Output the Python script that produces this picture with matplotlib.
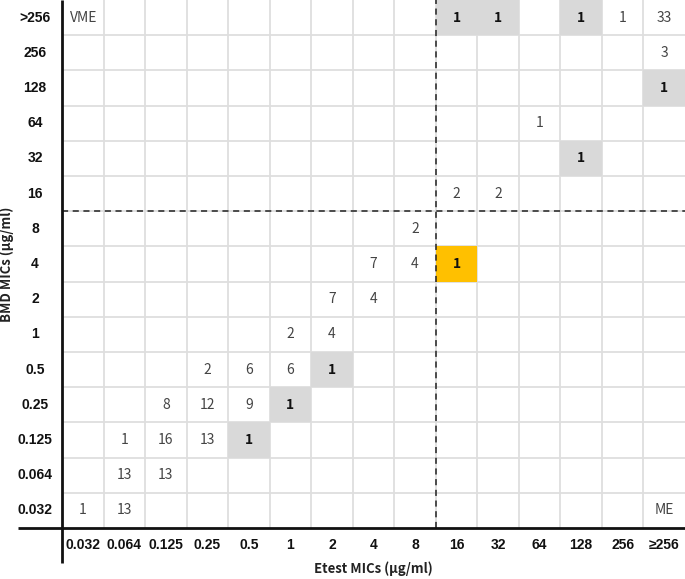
import matplotlib
matplotlib.use("Agg")
import matplotlib.pyplot as plt
from matplotlib.patches import Rectangle
import numpy as np

etest_labels = ["0.032", "0.064", "0.125", "0.25", "0.5", "1", "2", "4", "8",
                "16", "32", "64", "128", "256", "≥256"]
bmd_labels = [">256", "256", "128", "64", "32", "16", "8", "4", "2", "1",
              "0.5", "0.25", "0.125", "0.064", "0.032"]  # top to bottom

# counts: (bmd label, etest label, count)
counts = [
    (">256", "16", 1), (">256", "32", 1), (">256", "128", 1), (">256", "256", 1), (">256", "≥256", 33),
    ("256", "≥256", 3),
    ("128", "≥256", 1),
    ("64", "64", 1),
    ("32", "128", 1),
    ("16", "16", 2), ("16", "32", 2),
    ("8", "8", 2),
    ("4", "4", 7), ("4", "8", 4), ("4", "16", 1),
    ("2", "2", 7), ("2", "4", 4),
    ("1", "1", 2), ("1", "2", 4),
    ("0.5", "0.25", 2), ("0.5", "0.5", 6), ("0.5", "1", 6), ("0.5", "2", 1),
    ("0.25", "0.125", 8), ("0.25", "0.25", 12), ("0.25", "0.5", 9), ("0.25", "1", 1),
    ("0.125", "0.064", 1), ("0.125", "0.125", 16), ("0.125", "0.25", 13), ("0.125", "0.5", 1),
    ("0.064", "0.064", 13), ("0.064", "0.125", 13),
    ("0.032", "0.032", 1), ("0.032", "0.064", 13),
]

# highlighted cells: (bmd, etest start, etest end)
grey_cells = [(">256", "16", "32"), (">256", "128", "128"), ("128", "≥256", "≥256"),
              ("32", "128", "128"), ("0.5", "2", "2"), ("0.25", "1", "1"), ("0.125", "0.5", "0.5")]
orange_cells = [("4", "16", "16")]

W, H = 685, 579
fig = plt.figure(figsize=(W / 100, H / 100), dpi=100)
left_px, bottom_px = 62, 528
ax = fig.add_axes([left_px / W, (H - bottom_px) / H, 1 - left_px / W, bottom_px / H])
nx, ny = len(etest_labels), len(bmd_labels)
ax.set_xlim(0, nx)
ax.set_ylim(0, ny)
for s in ax.spines.values():
    s.set_visible(False)
ax.set_xticks([])
ax.set_yticks([])

def row_y(lbl):
    return ny - 1 - bmd_labels.index(lbl)

def col_x(lbl):
    return etest_labels.index(lbl)

gridc = "#dedede"
for i in range(1, nx):
    ax.plot([i, i], [0, ny], color=gridc, lw=1.3, zorder=1, solid_capstyle="butt")
for j in range(1, ny):
    ax.plot([0, nx], [j, j], color=gridc, lw=1.3, zorder=1, solid_capstyle="butt")

bold_cells = set()
for cells, colr in ((grey_cells, "#d9d9d9"), (orange_cells, "#ffc000")):
    for r, c0, c1 in cells:
        x0 = col_x(c0)
        x1 = col_x(c1) + 1
        y0 = row_y(r)
        ax.add_patch(Rectangle((x0, y0), x1 - x0, 1, facecolor=colr, edgecolor="none", zorder=2))
        for c in range(col_x(c0), col_x(c1) + 1):
            bold_cells.add((r, c))

num_font = ["Noto Sans CJK SC", "DejaVu Sans"]
for r, c, v in counts:
    xi = col_x(c)
    yi = row_y(r)
    if (r, xi) in bold_cells:
        ax.text(xi + 0.5, yi + 0.5, str(v), ha="center", va="center", fontsize=10,
                fontweight="bold", color="#111111", family=num_font, zorder=4)
    else:
        ax.text(xi + 0.5, yi + 0.5, str(v), ha="center", va="center", fontsize=10,
                color="#444444", family=num_font, zorder=4)

ax.text(0.2, ny - 0.5, "VME", ha="left", va="center", fontsize=10, color="#444444",
        family=num_font, zorder=4)
ax.text(nx - 0.5, 0.5, "ME", ha="center", va="center", fontsize=10, color="#444444",
        family=num_font, zorder=4)

# dashed breakpoints
bx = col_x("16")
by = row_y("16")
ax.plot([bx, bx], [0, ny], color="#222222", lw=1.1, ls=(0, (4, 3)), zorder=3, clip_on=False)
ax.plot([0, nx], [by, by], color="#222222", lw=1.1, ls=(0, (4, 3)), zorder=3, clip_on=False)

# thick axes lines
colw = (W - left_px) / nx
rowh = bottom_px / ny
ax.plot([(18 - left_px) / colw, nx], [0, 0], color="#111111", lw=2, zorder=5, clip_on=False,
        solid_capstyle="butt")
ax.plot([0, 0], [-(563 - bottom_px) / rowh, ny], color="#111111", lw=2, zorder=5, clip_on=False,
        solid_capstyle="butt")

tick_font = ["Liberation Sans", "DejaVu Sans"]
for i, lbl in enumerate(etest_labels):
    ax.text(i + 0.5, -(545 - bottom_px) / rowh, lbl, ha="center", va="center", fontsize=10,
            fontweight="bold", family=tick_font, color="#111111", clip_on=False)
for j, lbl in enumerate(bmd_labels):
    ax.text((35 - left_px) / colw, ny - 0.5 - j, lbl, ha="center", va="center", fontsize=10,
            fontweight="bold", family=tick_font, color="#111111", clip_on=False)

lab_font = ["Noto Sans CJK SC", "DejaVu Sans"]
fig.text(373 / W, 1 - 569 / H, "Etest MICs (µg/ml)", ha="center", va="center", fontsize=9.5,
         fontweight="bold", family=lab_font, color="#222222")
fig.text(7 / W, 1 - 264 / H, "BMD MICs (µg/ml)", ha="center", va="center", fontsize=9.5,
         fontweight="bold", family=lab_font, color="#222222", rotation=90)

fig.savefig("out.png", dpi=100)
